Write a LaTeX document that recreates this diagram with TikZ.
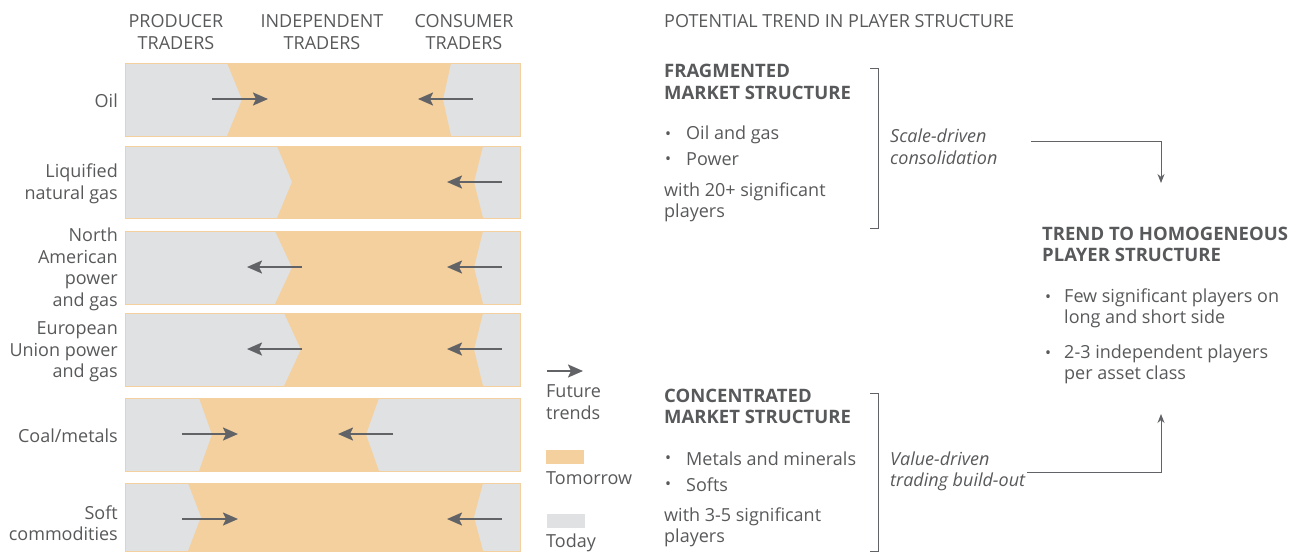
\documentclass[tikz,border=0pt]{standalone}
\usepackage{fontspec}
\setmainfont{Open Sans}
\usetikzlibrary{arrows.meta}
\definecolor{today}{HTML}{E0E1E2}
\definecolor{tomorrow}{HTML}{F4D09E}
\definecolor{txt}{HTML}{58595B}
\definecolor{arr}{HTML}{626366}

\begin{document}
\begin{tikzpicture}[x=1pt, y=-1pt, font=\fontsize{18}{21.5}\selectfont, text=txt,
        trend/.style={-{Stealth[length=15pt,width=13pt,inset=3pt]}, line width=2pt, arr},
        flow/.style={-{Stealth[length=9pt,width=7pt]}, line width=0.9pt, arr},
        brack/.style={line width=0.9pt, arr},
        rowlbl/.style={anchor=east, align=right, inner sep=0pt, yshift=-1.5pt},
        colhead/.style={align=center, inner sep=0pt, yshift=-1pt},
        body/.style={anchor=west, align=left, inner sep=0pt, yshift=-1.5pt},
        ttl/.style={anchor=west, align=left, inner sep=0pt, yshift=-1pt, font=\fontsize{18.5}{21.5}\selectfont\bfseries},
        bull/.style={inner sep=0pt, font=\fontsize{16}{16}\selectfont}]

        \useasboundingbox (0,0) rectangle (1290,552);

        %bands: top/bottom/left top/left tip/right top/right tip
        \foreach \t/\b/\lt/\lm/\rt/\rm in {63/136/227/242/451/443, 146/218/277/292/483/474,
                231/304/275/292/483/474, 313/386/284/301/483/474,
                398/471/199/212/379/366, 483/551/188/201/483/474}{
                \fill[today] (125,\t) rectangle (520,\b);
                \fill[tomorrow] (\lt,\t) -- (\lm,{(\t+\b)/2}) -- (\lt,\b) -- (\rt,\b)
                        -- (\rm,{(\t+\b)/2}) -- (\rt,\t) -- cycle;
                \draw[tomorrow, line width=0.8pt] (125,\t) rectangle (520,\b);
        }

        %future trends
        \foreach \y/\a/\b in {99/212/268, 99/473/418, 182/502/447, 267/302/247, 267/502/447,
                349/302/247, 349/502/447, 434/182/238, 434/393/338, 519/182/238, 519/502/447}
        \draw[trend] (\a,\y) -- (\b,\y);

        %column heads
        \node[colhead] (prod) at (176,31) {PRODUCER\\TRADERS};
        \node[colhead] (indep) at (322,31) {INDEPENDENT\\TRADERS};
        \node[colhead] (cons) at (464,31) {CONSUMER\\TRADERS};

        %rows
        \node[rowlbl] (oil) at (118,99) {Oil};
        \node[rowlbl] (lng) at (118,182.5) {Liquified\\natural gas};
        \node[rowlbl] (napg) at (118,268) {North\\American\\power\\and gas};
        \node[rowlbl] (eupg) at (118,350.5) {European\\Union power\\and gas};
        \node[rowlbl] (coal) at (118,434) {Coal/metals};
        \node[rowlbl] (soft) at (118,521.5) {Soft\\commodities};

        %legend
        \coordinate (legA) at (547,371);
        \coordinate (legB) at (583,371);
        \draw[trend] (legA) -- (legB);
        \node[body] (legtrend) at (546,400.5) {Future\\trends};
        \fill[tomorrow] (546,450) rectangle (584,464);
        \node[body] (legtom) at (546,477) {Tomorrow};
        \fill[today] (547,514) rectangle (585,528);
        \node[body] (legtod) at (546,541) {Today};

        %player structure
        \node[body] (pot) at (664,20) {POTENTIAL TREND IN PLAYER STRUCTURE};

        \node[ttl] (frag) at (664,81) {FRAGMENTED\\MARKET STRUCTURE};
        \node[bull] at (668,136) {\textbullet};
        \node[body] (fragA) at (686,133) {Oil and gas};
        \node[bull] at (668,161) {\textbullet};
        \node[body] (fragB) at (686,158) {Power};
        \node[body] (fragC) at (664,201) {with 20+ significant\\players};
        \draw[brack] (870,68) -- (878,68) -- (878,228) -- (870,228);
        \node[body, font=\fontsize{18}{21.5}\selectfont\itshape] (scale) at (890,145) {Scale-driven\\consolidation};

        \node[ttl] (conc) at (664,405.5) {CONCENTRATED\\MARKET STRUCTURE};
        \node[bull] at (668,460) {\textbullet};
        \node[body] (concA) at (686,457) {Metals and minerals};
        \node[bull] at (668,486) {\textbullet};
        \node[body] (concB) at (686,483) {Softs};
        \node[body] (concC) at (664,526) {with 3-5 significant\\players};
        \draw[brack] (870,393) -- (878,393) -- (878,551) -- (870,551);
        \node[body, font=\fontsize{18}{21.5}\selectfont\itshape] (value) at (890,470) {Value-driven\\trading build-out};

        \node[ttl] (homog) at (1042,243.5) {TREND TO HOMOGENEOUS\\PLAYER STRUCTURE};
        \node[bull] at (1048,299) {\textbullet};
        \node[body] (homA) at (1064,307) {Few significant players on\\long and short side};
        \node[bull] at (1048,355) {\textbullet};
        \node[body] (homB) at (1064,363) {2-3 independent players\\per asset class};

        %flows
        \coordinate (scaleout) at (1031,141);
        \coordinate (homtop) at (1161,183);
        \coordinate (valueout) at (1027,472);
        \coordinate (hombot) at (1161,414);
        \draw[flow] (scaleout) -| (homtop);
        \draw[flow] (valueout) -| (hombot);

\end{tikzpicture}
\end{document}
